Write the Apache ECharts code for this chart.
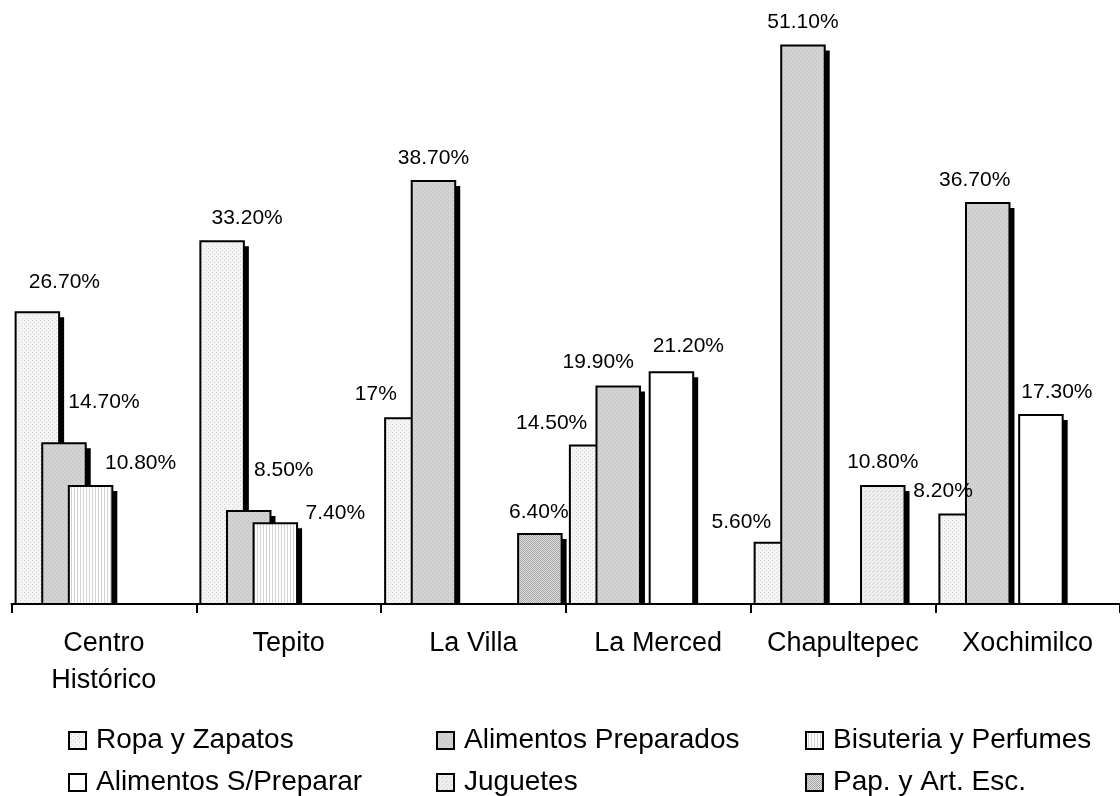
<!DOCTYPE html>
<html>
<head>
<meta charset="utf-8">
<script src="https://cdn.jsdelivr.net/npm/echarts@6/dist/echarts.min.js"></script>
<style>
  html, body { margin: 0; padding: 0; background: #fff; }
  #chart { width: 1120px; height: 796px; }
</style>
</head>
<body>
<div id="chart"></div>
<script>
// ---- data ----
const categories = ['Centro\nHistórico', 'Tepito', 'La Villa', 'La Merced', 'Chapultepec', 'Xochimilco'];
const seriesNames = ['Ropa y Zapatos', 'Alimentos Preparados', 'Bisuteria y Perfumes', 'Alimentos S/Preparar', 'Juguetes', 'Pap. y Art. Esc.'];
const ropaZapatos = [26.7, 33.2, 17, 14.5, 5.6, 8.2];
const alimentosPreparados = [14.7, 8.5, 38.7, 19.9, 51.1, 36.7];
const bisuteriaPerfumes = [10.8, 7.4, null, null, null, null];
const alimentosSinPreparar = [null, null, null, 21.2, null, 17.3];
const juguetes = [null, null, null, null, 10.8, null];
const papeleria = [null, null, 6.4, null, null, null];
const yMax = 55;

// ---- label nudges (style only, px) ----
const labelShift = [
  [[27, -7], [25, 0], [-31, -1], [-40, 1], [-35, 2], [-18, 0]],
  [[40, -18], [35, -18], [0, 0], [-20, -1], [0, 0], [-13, 0]],
  [[50, 0], [60, 13], [0, 0], [0, 0], [0, 0], [0, 0]],
  [[0, 0], [0, 0], [0, 0], [17, -3], [0, 0], [16, 0]],
  [[0, 0], [0, 0], [0, 0], [0, 0], [0, -1], [0, 0]],
  [[0, 0], [0, 0], [-1, 1], [0, 0], [0, 0], [0, 0]]
];

// bar geometry (style)
const BAR_W = 43.5;     // bar width, px
const BAR_STEP = 26.6;  // distance between overlapping bars, px
const SHADOW = 5;       // shadow offset, px
const NSLOTS = 6;

function makePattern(w, h, bg, fg, pts) {
  const c = document.createElement('canvas');
  c.width = w; c.height = h;
  const g = c.getContext('2d');
  g.fillStyle = bg; g.fillRect(0, 0, w, h);
  g.fillStyle = fg;
  pts.forEach(p => g.fillRect(p[0], p[1], 1, 1));
  return { image: c, repeat: 'repeat' };
}
const fills = [
  makePattern(4, 4, '#f5f5f5', '#d4d4d4', [[0, 0], [2, 2]]),
  makePattern(4, 4, '#d3d3d3', '#bcbcbc', [[0, 0], [2, 2]]),
  makePattern(3, 1, '#ffffff', '#d2d2d2', [[2, 0]]),
  '#ffffff',
  makePattern(4, 4, '#eeeeee', '#d6d6d6', [[0, 0], [2, 2], [1, 3]]),
  makePattern(2, 2, '#dedede', '#a6a6a6', [[0, 0], [1, 1]])
];

const values = [ropaZapatos, alimentosPreparados, bisuteriaPerfumes, alimentosSinPreparar, juguetes, papeleria];
const FONT = 'Liberation Sans, Arial, sans-serif';

function fmt(v) {
  return Number.isInteger(v) ? v + '%' : v.toFixed(2) + '%';
}

function makeRenderer(si) {
  return function (params, api) {
    const ci = api.value(0);
    const v = api.value(1);
    const topPt = api.coord([ci, v]);
    const basePt = api.coord([ci, 0]);
    const groupW = BAR_W + (NSLOTS - 1) * BAR_STEP;
    const x = topPt[0] - groupW / 2 + si * BAR_STEP;
    const y = topPt[1];
    const h = basePt[1] - y;
    const sh = labelShift[si][ci];
    return {
      type: 'group',
      children: [
        {
          type: 'rect',
          shape: { x: x + SHADOW, y: y + SHADOW, width: BAR_W, height: Math.max(0, h - SHADOW) },
          style: { fill: '#000' }
        },
        {
          type: 'rect',
          shape: { x: x, y: y, width: BAR_W, height: h },
          style: { fill: fills[si], stroke: '#000', lineWidth: 2 }
        },
        {
          type: 'text',
          z2: 100,
          style: {
            x: x + BAR_W / 2 + sh[0],
            y: y - 23 + sh[1],
            text: fmt(v),
            fill: '#000',
            font: '21px ' + FONT,
            align: 'center',
            verticalAlign: 'middle'
          }
        }
      ]
    };
  };
}

const series = seriesNames.map((name, si) => ({
  name: name,
  type: 'custom',
  renderItem: makeRenderer(si),
  itemStyle: { color: fills[si] },
  encode: { x: 0, y: 1 },
  data: values[si]
    .map((v, ci) => v == null ? null : [ci, v])
    .filter(d => d !== null)
}));

function legendCol(names, left) {
  return {
    orient: 'vertical',
    left: left,
    top: 726.5,
    height: 120,
    padding: 0,
    itemWidth: 17,
    itemHeight: 17,
    itemGap: 14,
    icon: 'rect',
    selectedMode: false,
    data: names,
    itemStyle: {
      borderColor: '#000',
      borderWidth: 2,
      shadowBlur: 0,
      shadowOffsetX: 0,
      shadowOffsetY: 0,
      shadowColor: 'rgba(0,0,0,0)'
    },
    textStyle: {
      color: '#000',
      fontFamily: FONT,
      fontSize: 28,
      lineHeight: 28,
      padding: [0, 0, 0, 5]
    }
  };
}

const chart = echarts.init(document.getElementById('chart'), null, { renderer: 'canvas' });
chart.setOption({
  animation: false,
  backgroundColor: '#fff',
  grid: { left: 11.5, top: 3, width: 1110, bottom: 192, containLabel: false },
  xAxis: {
    type: 'category',
    data: categories,
    z: 4,
    axisLine: { lineStyle: { color: '#000', width: 2 } },
    axisTick: { show: true, length: 9, lineStyle: { color: '#000', width: 2 } },
    axisLabel: {
      interval: 0,
      color: '#000',
      fontFamily: FONT,
      fontSize: 27,
      lineHeight: 37,
      margin: 21
    }
  },
  yAxis: {
    type: 'value',
    min: 0,
    max: yMax,
    show: false,
    splitLine: { show: false }
  },
  legend: [
    legendCol([seriesNames[0], seriesNames[3]], 68),
    legendCol([seriesNames[1], seriesNames[4]], 436),
    legendCol([seriesNames[2], seriesNames[5]], 805)
  ],
  series: series
});
</script>
</body>
</html>
